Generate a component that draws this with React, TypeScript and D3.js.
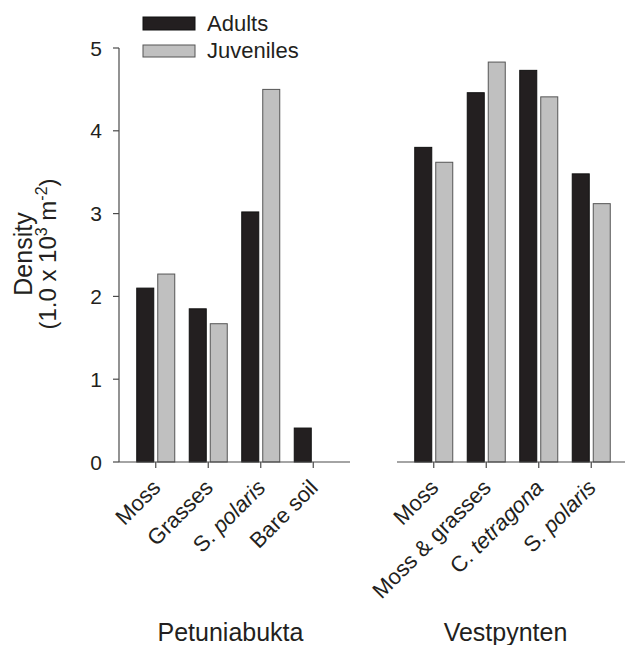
import React from "react";
import * as d3 from "d3";

const leftCats = ["Moss", "Grasses", "S. polaris", "Bare soil"];
const leftItalic = [false, false, true, false];
const leftAdults = [2.1, 1.85, 3.02, 0.41];
const leftJuveniles = [2.27, 1.67, 4.5, 0];

const rightCats = ["Moss", "Moss & grasses", "C. tetragona", "S. polaris"];
const rightItalic = [false, false, true, true];
const rightAdults = [3.8, 4.46, 4.73, 3.48];
const rightJuveniles = [3.62, 4.83, 4.41, 3.12];

const yTicks = [0, 1, 2, 3, 4, 5];
const groupTitles = ["Petuniabukta", "Vestpynten"];
const seriesNames = ["Adults", "Juveniles"];

const W = 625;
const H = 645;
const font = "'Liberation Sans', Arial, Helvetica, sans-serif";
const adultFill = "#231f20";
const juvFill = "#c0c0c0";
const axisColor = "#4a4a4a";
const textColor = "#231f20";

const y = d3.scaleLinear().domain([0, 5]).range([462, 48]);

function italicLabel(label: string, italic: boolean) {
  if (!italic) return label;
  const parts = label.split(" ");
  return (
    <>
      <tspan>{parts[0] + " "}</tspan>
      <tspan fontStyle="italic">{parts.slice(1).join(" ")}</tspan>
    </>
  );
}

function Panel({
  cats,
  italic,
  adults,
  juv,
  x0,
  x1,
  title,
  titleShift,
}: {
  cats: string[];
  italic: boolean[];
  adults: number[];
  juv: number[];
  x0: number;
  x1: number;
  title: string;
  titleShift: number;
}) {
  const x = d3.scaleBand<string>().domain(cats).range([x0, x1]).paddingOuter(0.2).paddingInner(0);
  const bw = 17;
  const gap = 2;
  const c = (cat: string) => (x(cat) as number) + x.bandwidth() / 2;
  return (
    <g>
      {cats.map((cat, i) => (
        <g key={cat}>
          {adults[i] > 0 && (
            <rect
              x={c(cat) - gap - bw}
              y={y(adults[i])}
              width={bw}
              height={y(0) - y(adults[i])}
              fill={adultFill}
              stroke="#111"
              strokeWidth={1}
            />
          )}
          {juv[i] > 0 && (
            <rect
              x={c(cat) + gap}
              y={y(juv[i])}
              width={bw}
              height={y(0) - y(juv[i])}
              fill={juvFill}
              stroke="#555"
              strokeWidth={1}
            />
          )}
        </g>
      ))}
      <line x1={x0} x2={x1} y1={y(0)} y2={y(0)} stroke={axisColor} strokeWidth={1.2} />
      {cats.map((cat, i) => (
        <g key={"t" + cat}>
          <line x1={c(cat)} x2={c(cat)} y1={y(0)} y2={y(0) + 6} stroke={axisColor} strokeWidth={1.2} />
          <text
            transform={`translate(${c(cat) + 6},${y(0) + 27}) rotate(-45)`}
            textAnchor="end"
            fontSize={22}
            fontFamily={font}
            fill={textColor}
          >
            {italicLabel(cat, italic[i])}
          </text>
        </g>
      ))}
      <text x={(x0 + x1) / 2 + titleShift} y={641} textAnchor="middle" fontSize={25} fontFamily={font} fill={textColor}>
        {title}
      </text>
    </g>
  );
}

export default function App() {
  const yAxisX = 119;
  return (
    <svg
      width={W}
      height={H}
      style={{ position: "absolute", left: 0, top: 0, background: "#fff" }}
    >
      {/* y axis */}
      <line x1={yAxisX} x2={yAxisX} y1={y(0)} y2={y(5)} stroke={axisColor} strokeWidth={1.2} />
      {yTicks.map((t) => (
        <g key={t}>
          <line x1={yAxisX - 6} x2={yAxisX} y1={y(t)} y2={y(t)} stroke={axisColor} strokeWidth={1.2} />
          <text x={102} y={y(t) + 7.5} textAnchor="end" fontSize={21} fontFamily={font} fill={textColor}>
            {t}
          </text>
        </g>
      ))}
      <text
        transform={`translate(32,254) rotate(-90)`}
        textAnchor="middle"
        fontSize={25}
        fontFamily={font}
        fill={textColor}
      >
        Density
      </text>
      <text
        transform={`translate(56,254) rotate(-90)`}
        textAnchor="middle"
        fontSize={24}
        fontFamily={font}
        fill={textColor}
      >
        <tspan>(1.0 x 10</tspan>
        <tspan fontSize={16} dy={-9}>3</tspan>
        <tspan dy={9}> m</tspan>
        <tspan fontSize={16} dy={-9}>-2</tspan>
        <tspan dy={9}>)</tspan>
      </text>

      <Panel cats={leftCats} italic={leftItalic} adults={leftAdults} juv={leftJuveniles} x0={119} x1={350} title={groupTitles[0]} titleShift={-4} />
      <Panel cats={rightCats} italic={rightItalic} adults={rightAdults} juv={rightJuveniles} x0={397} x1={628} title={groupTitles[1]} titleShift={-7} />

      {/* legend */}
      <rect x={143} y={17} width={52} height={13} fill={adultFill} stroke="#111" />
      <text x={207} y={31} fontSize={22} fontFamily={font} fill={textColor}>
        {seriesNames[0]}
      </text>
      <rect x={143} y={45} width={52} height={12} fill={juvFill} stroke="#555" />
      <text x={207} y={58} fontSize={22} fontFamily={font} fill={textColor}>
        {seriesNames[1]}
      </text>
    </svg>
  );
}
